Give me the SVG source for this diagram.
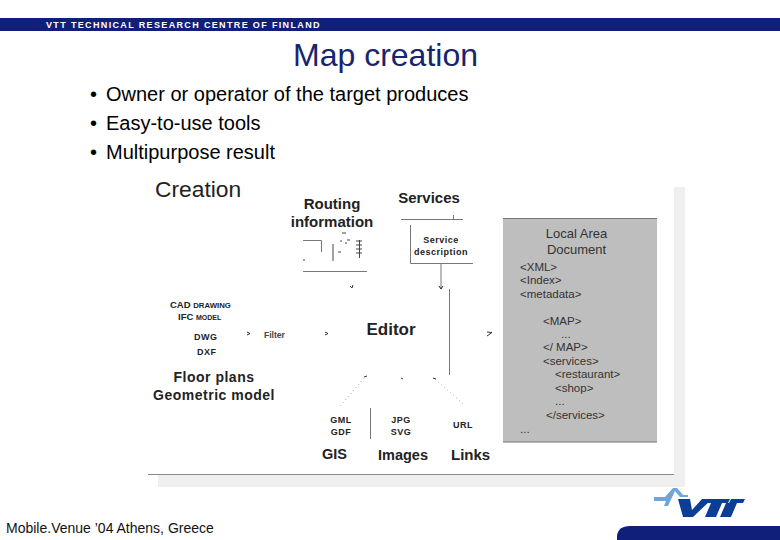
<svg xmlns="http://www.w3.org/2000/svg" width="780" height="540" viewBox="0 0 780 540">
<style>
text{font-family:"Liberation Sans",Arial,sans-serif;fill:#000}
.b{font-weight:bold;fill:#222}
.h{font-size:15px;font-weight:bold;fill:#222}
.s{font-size:9px;font-weight:bold;fill:#222;letter-spacing:.5px}
.d{font-size:11.500px;fill:#333}
.l{stroke:#777;stroke-width:1;fill:none}
.dot{stroke:#aaa;stroke-width:1;fill:none;stroke-dasharray:1 3}
.a{stroke:#222;stroke-width:1;fill:none}
.m{stroke:#333;stroke-width:1;fill:none}
.bl{font-size:20px}
</style>
<rect id="page" width="780" height="540" fill="#fff"/>
<g id="header">
<rect x="0" y="18" width="780" height="13" fill="#0f1f7a"/>
<text x="46" y="28" font-size="9" font-weight="bold" letter-spacing="1.35" style="fill:#fff">VTT TECHNICAL RESEARCH CENTRE OF FINLAND</text>
<text x="293" y="66" font-size="32" style="fill:#17246e">Map creation</text>
</g>
<g id="bullets">
<text x="90" y="101" class="bl">•</text><text x="106" y="101" class="bl">Owner or operator of the target produces</text>
<text x="90" y="130" class="bl">•</text><text x="106" y="130" class="bl">Easy-to-use tools</text>
<text x="90" y="159" class="bl">•</text><text x="106" y="159" class="bl">Multipurpose result</text>
</g>
<g id="figure-frame">
<rect x="674" y="187" width="11" height="300" fill="#efefef"/>
<rect x="158" y="475" width="527" height="12" fill="#efefef"/>
<line x1="148" y1="474.500" x2="674" y2="474.500" stroke="#888"/>
</g>
<g id="creation"><text x="155" y="197" font-size="22.800" style="fill:#222">Creation</text></g>
<g id="routing">
<text x="332" y="209" class="h" text-anchor="middle">Routing</text>
<text x="332" y="227" class="h" text-anchor="middle">information</text>
<path class="l" d="M303 240.500H321.500V252M303 271.500H367"/>
<path d="M333 244V261M359.500 240V258M356 241h6M356 245h6M356 249h6M356 253h6M342 233h4M340 241h2M345 243h2M347 240h3M338 252h3M303 260h2" stroke="#444" fill="none"/>
</g>
<g id="services">
<text x="429" y="203" class="h" text-anchor="middle">Services</text>
<path class="l" d="M401 219.500H463M453.500 215V219M410.500 225V263.500H473"/>
<text x="441" y="243" class="s" text-anchor="middle">Service</text>
<text x="441" y="255" class="s" text-anchor="middle">description</text>
</g>
<g id="cad">
<text x="170" y="308" font-size="9.500" font-weight="bold" style="fill:#222">CAD <tspan font-size="7.800">DRAWING</tspan></text>
<text x="178" y="320" font-size="9.500" font-weight="bold" style="fill:#222">IFC <tspan font-size="7">MODEL</tspan></text>
<text x="194" y="340" class="s">DWG</text>
<text x="197" y="355" class="s">DXF</text>
</g>
<g id="filter"><text x="264" y="338" font-size="8.500" font-weight="bold" style="fill:#444">Filter</text></g>
<g id="floor-plans">
<text x="214" y="382" font-size="14" text-anchor="middle" class="b" letter-spacing=".5">Floor plans</text>
<text x="214" y="400" font-size="14" text-anchor="middle" class="b" letter-spacing=".5">Geometric model</text>
</g>
<g id="editor"><text x="391" y="335" font-size="17" text-anchor="middle" class="b">Editor</text></g>
<g id="gis">
<text x="341" y="423" class="s" text-anchor="middle">GML</text>
<text x="341" y="435" class="s" text-anchor="middle">GDF</text>
<text x="322" y="459" font-size="14.500" class="b">GIS</text>
</g>
<g id="images">
<text x="401" y="423" class="s" text-anchor="middle">JPG</text>
<text x="401" y="435" class="s" text-anchor="middle">SVG</text>
<text x="378" y="460" font-size="14.500" class="b">Images</text>
</g>
<g id="links">
<text x="463" y="428" class="s" text-anchor="middle">URL</text>
<text x="451" y="460" font-size="15" class="b">Links</text>
</g>
<g id="local-area-document">
<rect x="503" y="218" width="154" height="224" fill="#bebebe"/>
<path d="M503 218.500H657M503 442H657" stroke="#777" fill="none"/>
<text x="576.500" y="238" font-size="13" text-anchor="middle" style="fill:#333">Local Area</text>
<text x="576.500" y="254" font-size="13" text-anchor="middle" style="fill:#333">Document</text>
<text x="520" y="271" class="d">&lt;XML&gt;</text>
<text x="520" y="284" class="d">&lt;Index&gt;</text>
<text x="520" y="298" class="d">&lt;metadata&gt;</text>
<text x="543" y="325" class="d">&lt;MAP&gt;</text>
<text x="561" y="338" class="d">...</text>
<text x="543" y="351" class="d">&lt;/ MAP&gt;</text>
<text x="543" y="365" class="d">&lt;services&gt;</text>
<text x="555" y="378" class="d">&lt;restaurant&gt;</text>
<text x="555" y="392" class="d">&lt;shop&gt;</text>
<text x="555" y="405" class="d">...</text>
<text x="546" y="419" class="d">&lt;/services&gt;</text>
<text x="520" y="433" class="d">...</text>
</g>
<g id="connectors">
<path class="l" d="M441 264V288M449.500 289V375M370.500 408V439"/>
<path class="a" d="M439 286L441 289L443 286"/>
<path class="dot" d="M340 406L366 376M463 404L434 378"/>
<path class="m" d="M350 286L352 288L353 285M247 332L250 333.500L247 335M325 332L328 333.500L325 335M487 332L492 332.500L487 336M364 377L367 376M401 378L403 379M433 378L436 379"/>
</g>
<g id="logo">
<path d="M654 497H665L673 488H677L683 495H688V497H680L675 491L668 506H664L666 501H654Z" fill="#6ea6dc"/>
<path d="M678 499H690L692 510L702 499H712L693 517H683Z" fill="#0d3e96"/>
<path d="M705 499H730L728 503H722L716 517H705L711 503H703Z" fill="#0d3e96"/>
<path d="M731 499H745L743 503H737L731 517H720L726 503H729Z" fill="#0d3e96"/>
<path d="M617 540V536Q618 526 630 526H780V540Z" fill="#0f1f7a"/>
</g>
<g id="footer"><text x="6" y="533" font-size="14" style="fill:#111">Mobile.Venue ’04 Athens, Greece</text></g>
</svg>
